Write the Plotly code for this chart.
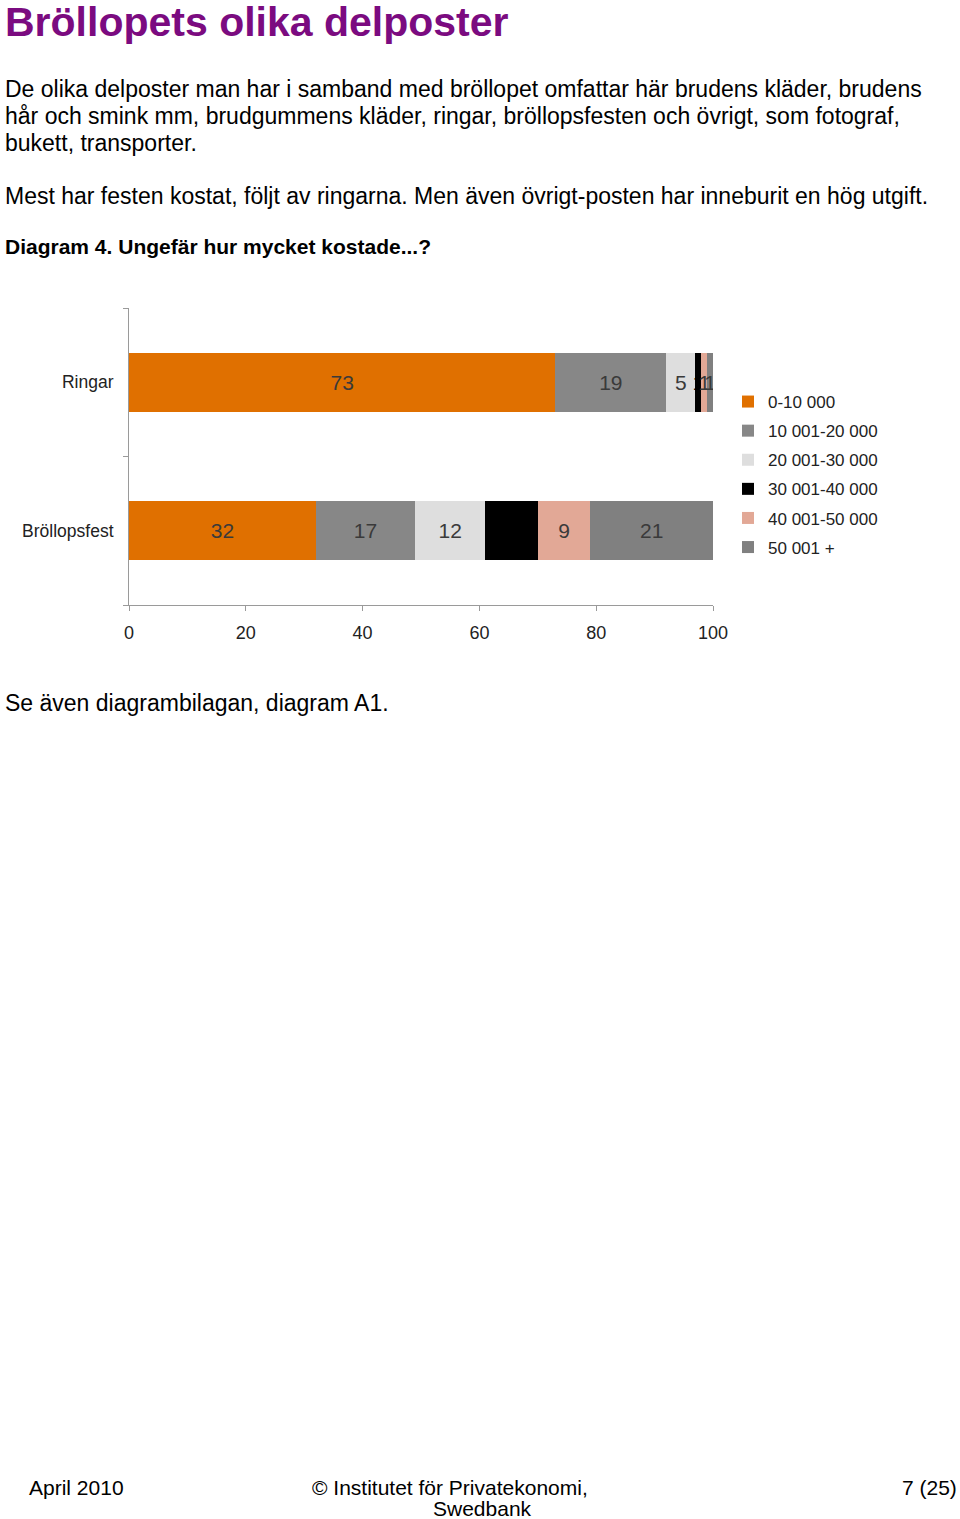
import plotly.graph_objects as go

categories = ["Bröllopsfest", "Ringar"]
series_names = ["0-10 000", "10 001-20 000", "20 001-30 000", "30 001-40 000", "40 001-50 000", "50 001 +"]
values = {
    "0-10 000": [32, 73],
    "10 001-20 000": [17, 19],
    "20 001-30 000": [12, 5],
    "30 001-40 000": [9, 1],
    "40 001-50 000": [9, 1],
    "50 001 +": [21, 1],
}
colors = ["#E07000", "#878787", "#DEDEDE", "#000000", "#E2A896", "#808080"]
tick_vals = [0, 20, 40, 60, 80, 100]

W, H = 960, 1519
L, R, T, B = 129, 713, 308, 605
FONT = "Liberation Sans, Arial, sans-serif"

def px(x):
    return (x - L) / (R - L)

def py(y):
    return (B - y) / (B - T)

fig = go.Figure()
for name, col in zip(series_names, colors):
    fig.add_trace(go.Bar(
        y=categories, x=values[name], name=name, orientation="h",
        marker=dict(color=col, line=dict(width=0)),
        text=[str(v) for v in values[name]], textposition="inside",
        insidetextanchor="middle", textangle=0,
        textfont=dict(color="#000000" if col == "#000000" else "#3a3a3a", size=21, family=FONT),
        legendgroup=name, hoverinfo="x+name",
    ))

fig.update_layout(
    width=W, height=H, barmode="stack", bargap=0.6,
    margin=dict(l=L, r=W - R, t=T, b=H - B, autoexpand=False),
    paper_bgcolor="white", plot_bgcolor="white",
    font=dict(family=FONT, color="#222222"),
    uniformtext=dict(minsize=21, mode="show"),
    showlegend=True,
    legend=dict(x=px(728), xanchor="left", y=py(384), yanchor="top",
                traceorder="grouped", tracegroupgap=4,
                font=dict(size=17, family=FONT, color="#222222"),
                bgcolor="rgba(0,0,0,0)"),
    xaxis=dict(range=[0, 100], tickvals=tick_vals, showgrid=False, zeroline=False,
               showline=True, linecolor="#9a9a9a", linewidth=1,
               ticks="outside", ticklen=5, tickcolor="#9a9a9a", ticklabelstandoff=6,
               tickfont=dict(size=18, family=FONT, color="#222222"), fixedrange=True),
    yaxis=dict(categoryorder="array", categoryarray=categories, showgrid=False,
               showline=True, linecolor="#9a9a9a", linewidth=1,
               ticks="outside", ticklen=5, tickcolor="#9a9a9a", tickson="boundaries",
               ticklabelstandoff=11,
               tickfont=dict(size=17.5, family=FONT, color="#222222"), fixedrange=True),
)

def text(x, y, s, size=23, color="#000000", bold=False, xanchor="left"):
    if bold:
        s = "<b>" + s + "</b>"
    fig.add_annotation(x=px(x), y=py(y), xref="paper", yref="paper", text=s,
                       showarrow=False, xanchor=xanchor, yanchor="middle",
                       font=dict(size=size, color=color, family=FONT))

text(3, 22, "Bröllopets olika delposter", size=41, color="#7B0B80", bold=True)
text(3, 89, "De olika delposter man har i samband med bröllopet omfattar här brudens kläder, brudens")
text(3, 116, "hår och smink mm, brudgummens kläder, ringar, bröllopsfesten och övrigt, som fotograf,")
text(3, 143, "bukett, transporter.")
text(3, 196, "Mest har festen kostat, följt av ringarna. Men även övrigt-posten har inneburit en hög utgift.")
text(3, 247, "Diagram 4. Ungefär hur mycket kostade...?", size=21, bold=True)
text(3, 703, "Se även diagrambilagan, diagram A1.")
text(27, 1487, "April 2010", size=21)
text(450, 1487, "© Institutet för Privatekonomi,", size=21, xanchor="center")
text(482, 1509, "Swedbank", size=21, xanchor="center")
text(959, 1487, "7 (25)", size=21, xanchor="right")

fig.write_html("out.html")
